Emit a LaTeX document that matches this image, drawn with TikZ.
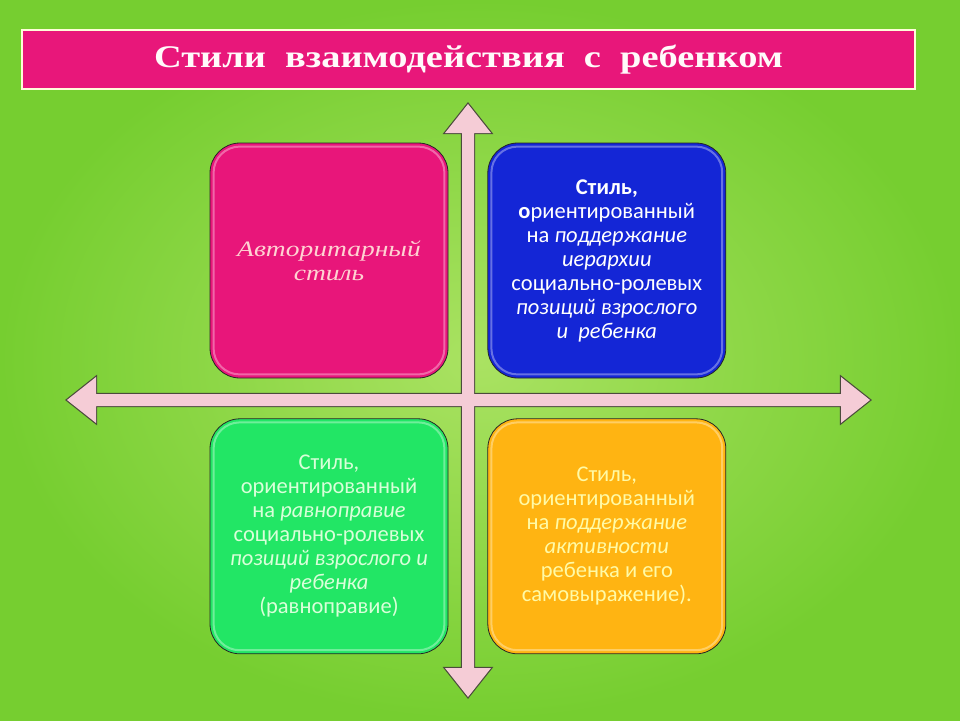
\documentclass[tikz,border=0pt]{standalone}
\usepackage{fontspec}
\setmainfont{Liberation Serif}
\setsansfont{Carlito}
\newfontfamily\titlefont{Liberation Serif}[FakeStretch=1.22]
\newfontfamily\authfont{Liberation Serif}[FakeStretch=1.25]
\usetikzlibrary{positioning}
\definecolor{bgdark}{HTML}{76CE30}
\definecolor{bglight}{HTML}{AAE262}
\definecolor{titlepink}{HTML}{E8177A}
\definecolor{authpink}{HTML}{E8167A}
\definecolor{hierblue}{HTML}{1426D6}
\definecolor{equalgreen}{HTML}{22E665}
\definecolor{activeorange}{HTML}{FFB412}
\definecolor{axisfill}{HTML}{F5CCD6}
\definecolor{axisline}{HTML}{4B4B3C}

\begin{document}
\begin{tikzpicture}[x=1pt, y=-1pt,
  node distance=40pt and 39pt,
  box/.style={draw=black!85, line width=0.8pt, rounded corners=30pt, minimum width=238pt, minimum height=235pt, align=center, font=\sffamily\fontsize{22.5}{24}\selectfont},
  axisedge/.style={draw=axisline, line width=2.4pt, line join=miter},
  axisbody/.style={fill=axisfill},
  gloss/.style={draw=white, opacity=0.35, line width=2pt, rounded corners=26pt}
]
\useasboundingbox (0,0) rectangle (960,720);
\shade[inner color=bglight, outer color=bgdark] (0,0) rectangle (960,720);

% title bar
\node[draw=white!85!yellow, line width=1.5pt, fill=titlepink, minimum width=893pt, minimum height=59pt, text=white!92!pink, font=\titlefont\bfseries\fontsize{31.5}{34}\selectfont] (title) at (468.5,59.5) {Стили\ \ взаимодействия\ \ с\ \ ребенком};

% axes
\path[axisedge] (67,400) -- (96,377) -- (96,394) -- (841,394) -- (841,377) -- (870,400) -- (841,423) -- (841,406) -- (96,406) -- (96,423) -- cycle;
\path[axisedge] (468,104) -- (491,133) -- (474,133) -- (474,668) -- (491,668) -- (468,697) -- (445,668) -- (462,668) -- (462,133) -- (445,133) -- cycle;
\path[axisbody] (67,400) -- (96,377) -- (96,394) -- (841,394) -- (841,377) -- (870,400) -- (841,423) -- (841,406) -- (96,406) -- (96,423) -- cycle;
\path[axisbody] (468,104) -- (491,133) -- (474,133) -- (474,668) -- (491,668) -- (468,697) -- (445,668) -- (462,668) -- (462,133) -- (445,133) -- cycle;

% four styles
\node[box, fill=authpink, text=pink!70!white, font=\authfont\itshape\fontsize{22}{24}\selectfont] (auth) at (329,260.5) {Авторитарный\\стиль};
\node[box, right=of auth, fill=hierblue, text=white] (hier) {\textbf{Стиль,}\\\textbf{о}риентированный\\на \textit{поддержание}\\\textit{иерархии}\\социально-ролевых\\\textit{позиций взрослого}\\\textit{и\ \ ребенка}};
\node[box, below=of auth, fill=equalgreen, text=green!15!white] (equal) {Стиль,\\ориентированный\\на \textit{равноправие}\\социально-ролевых\\\textit{позиций взрослого и}\\\textit{ребенка}\\(равноправие)};
\node[box, below=of hier, fill=activeorange, text=yellow!35!white] (active) {Стиль,\\ориентированный\\на \textit{поддержание}\\\textit{активности}\\ребенка и его\\самовыражение).};

\foreach \b in {auth, hier, equal, active}
  \draw[gloss] ([shift={(4pt,-4pt)}]\b.north west) rectangle ([shift={(-4pt,4pt)}]\b.south east);
\end{tikzpicture}
\end{document}
